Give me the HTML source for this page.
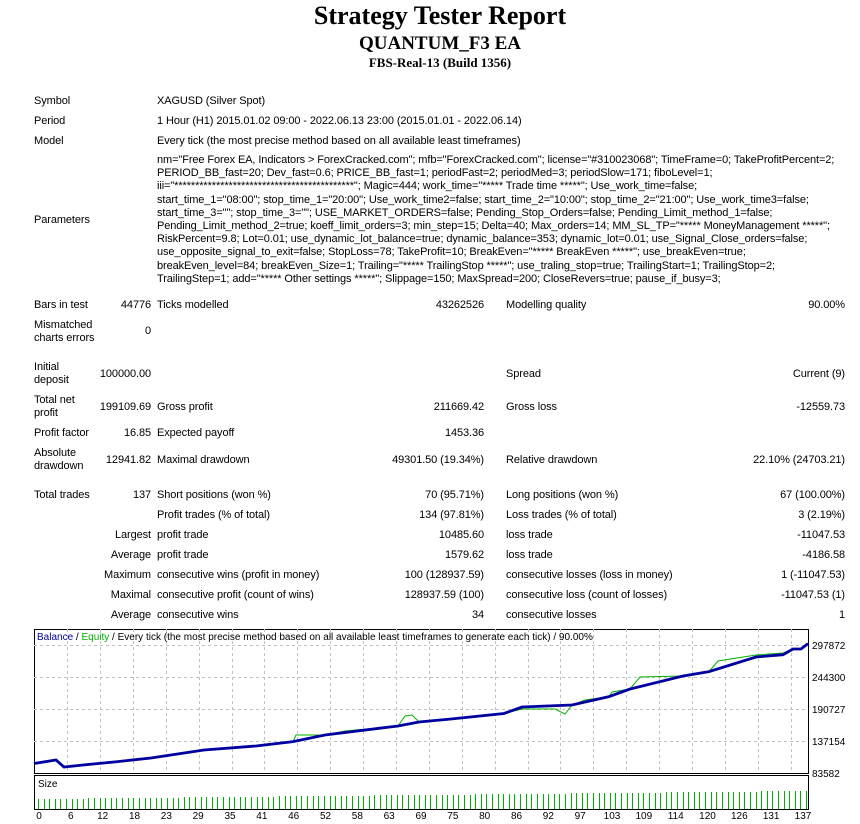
<!DOCTYPE html>
<html><head><meta charset="utf-8"><style>
body{margin:0;width:860px;height:824px;background:#fff;position:relative;overflow:hidden;font-family:"Liberation Sans",sans-serif;font-size:11px;color:#000}
.t{position:absolute;white-space:nowrap;line-height:13px;letter-spacing:-0.1px}
.r{text-align:right}
.h{position:absolute;left:0;width:880px;text-align:center;font-family:"Liberation Serif",serif;font-weight:bold;white-space:nowrap}
</style></head><body>
<div class="h" style="top:1px;font-size:26px">Strategy Tester Report</div>
<div class="h" style="top:33px;font-size:19px">QUANTUM_F3 EA</div>
<div class="h" style="top:55px;font-size:13px">FBS-Real-13 (Build 1356)</div>

<div class="t" style="left:34px;top:95px">Symbol</div><div class="t" style="left:157px;top:95px">XAGUSD (Silver Spot)</div>
<div class="t" style="left:34px;top:115px">Period</div><div class="t" style="left:157px;top:115px">1 Hour (H1) 2015.01.02 09:00 - 2022.06.13 23:00 (2015.01.01 - 2022.06.14)</div>
<div class="t" style="left:34px;top:135px">Model</div><div class="t" style="left:157px;top:135px">Every tick (the most precise method based on all available least timeframes)</div>
<div class="t" style="left:34px;top:214px">Parameters</div>
<div class="t" style="left:157px;top:154px;line-height:13.2px">nm="Free Forex EA, Indicators &gt; ForexCracked.com"; mfb="ForexCracked.com"; license="#310023068"; TimeFrame=0; TakeProfitPercent=2;<br>PERIOD_BB_fast=20; Dev_fast=0.6; PRICE_BB_fast=1; periodFast=2; periodMed=3; periodSlow=171; fiboLevel=1;<br>iii="*******************************************"; Magic=444; work_time="***** Trade time *****"; Use_work_time=false;<br>start_time_1="08:00"; stop_time_1="20:00"; Use_work_time2=false; start_time_2="10:00"; stop_time_2="21:00"; Use_work_time3=false;<br>start_time_3=""; stop_time_3=""; USE_MARKET_ORDERS=false; Pending_Stop_Orders=false; Pending_Limit_method_1=false;<br>Pending_Limit_method_2=true; koeff_limit_orders=3; min_step=15; Delta=40; Max_orders=14; MM_SL_TP="***** MoneyManagement *****";<br>RiskPercent=9.8; Lot=0.01; use_dynamic_lot_balance=true; dynamic_balance=353; dynamic_lot=0.01; use_Signal_Close_orders=false;<br>use_opposite_signal_to_exit=false; StopLoss=78; TakeProfit=10; BreakEven="***** BreakEven *****"; use_breakEven=true;<br>breakEven_level=84; breakEven_Size=1; Trailing="***** TrailingStop *****"; use_traling_stop=true; TrailingStart=1; TrailingStop=2;<br>TrailingStep=1; add="***** Other settings *****"; Slippage=150; MaxSpread=200; CloseRevers=true; pause_if_busy=3;</div>

<div class="t" style="left:34px;top:299px">Bars in test</div><div class="t r" style="right:709px;top:299px">44776</div><div class="t" style="left:157px;top:299px">Ticks modelled</div><div class="t r" style="right:376px;top:299px">43262526</div><div class="t" style="left:506px;top:299px">Modelling quality</div><div class="t r" style="right:15px;top:299px">90.00%</div>
<div class="t" style="left:34px;top:319px">Mismatched<br>charts errors</div><div class="t r" style="right:709px;top:325px">0</div>
<div class="t" style="left:34px;top:361px">Initial<br>deposit</div><div class="t r" style="right:709px;top:368px">100000.00</div><div class="t" style="left:506px;top:368px">Spread</div><div class="t r" style="right:15px;top:368px">Current (9)</div>
<div class="t" style="left:34px;top:394px">Total net<br>profit</div><div class="t r" style="right:709px;top:401px">199109.69</div><div class="t" style="left:157px;top:401px">Gross profit</div><div class="t r" style="right:376px;top:401px">211669.42</div><div class="t" style="left:506px;top:401px">Gross loss</div><div class="t r" style="right:15px;top:401px">-12559.73</div>
<div class="t" style="left:34px;top:427px">Profit factor</div><div class="t r" style="right:709px;top:427px">16.85</div><div class="t" style="left:157px;top:427px">Expected payoff</div><div class="t r" style="right:376px;top:427px">1453.36</div>
<div class="t" style="left:34px;top:447px">Absolute<br>drawdown</div><div class="t r" style="right:709px;top:454px">12941.82</div><div class="t" style="left:157px;top:454px">Maximal drawdown</div><div class="t r" style="right:376px;top:454px">49301.50 (19.34%)</div><div class="t" style="left:506px;top:454px">Relative drawdown</div><div class="t r" style="right:15px;top:454px">22.10% (24703.21)</div>

<div class="t" style="left:34px;top:489px">Total trades</div><div class="t r" style="right:709px;top:489px">137</div><div class="t" style="left:157px;top:489px">Short positions (won %)</div><div class="t r" style="right:376px;top:489px">70 (95.71%)</div><div class="t" style="left:506px;top:489px">Long positions (won %)</div><div class="t r" style="right:15px;top:489px">67 (100.00%)</div>
<div class="t" style="left:157px;top:509px">Profit trades (% of total)</div><div class="t r" style="right:376px;top:509px">134 (97.81%)</div><div class="t" style="left:506px;top:509px">Loss trades (% of total)</div><div class="t r" style="right:15px;top:509px">3 (2.19%)</div>
<div class="t r" style="right:709px;top:529px">Largest</div><div class="t" style="left:157px;top:529px">profit trade</div><div class="t r" style="right:376px;top:529px">10485.60</div><div class="t" style="left:506px;top:529px">loss trade</div><div class="t r" style="right:15px;top:529px">-11047.53</div>
<div class="t r" style="right:709px;top:549px">Average</div><div class="t" style="left:157px;top:549px">profit trade</div><div class="t r" style="right:376px;top:549px">1579.62</div><div class="t" style="left:506px;top:549px">loss trade</div><div class="t r" style="right:15px;top:549px">-4186.58</div>
<div class="t r" style="right:709px;top:569px">Maximum</div><div class="t" style="left:157px;top:569px">consecutive wins (profit in money)</div><div class="t r" style="right:376px;top:569px">100 (128937.59)</div><div class="t" style="left:506px;top:569px">consecutive losses (loss in money)</div><div class="t r" style="right:15px;top:569px">1 (-11047.53)</div>
<div class="t r" style="right:709px;top:589px">Maximal</div><div class="t" style="left:157px;top:589px">consecutive profit (count of wins)</div><div class="t r" style="right:376px;top:589px">128937.59 (100)</div><div class="t" style="left:506px;top:589px">consecutive loss (count of losses)</div><div class="t r" style="right:15px;top:589px">-11047.53 (1)</div>
<div class="t r" style="right:709px;top:609px">Average</div><div class="t" style="left:157px;top:609px">consecutive wins</div><div class="t r" style="right:376px;top:609px">34</div><div class="t" style="left:506px;top:609px">consecutive losses</div><div class="t r" style="right:15px;top:609px">1</div>

<svg id="c" width="860" height="824" style="position:absolute;left:0;top:0" font-family="Liberation Sans, sans-serif" font-size="10"></svg>
<script>
var s=document.getElementById('c'),h='';
var L=34,R=808,T=629,B=773;
h+='<rect x="'+L+'.5" y="'+T+'.5" width="'+(R-L)+'" height="'+(B-T)+'" fill="#fff" stroke="#000"/>';
h+='<rect x="'+L+'.5" y="775.5" width="'+(R-L)+'" height="34" fill="#fff" stroke="#000"/>';
var yl=[[645,'297872'],[677,'244300'],[709,'190727'],[741,'137154'],[773,'83582']];
yl.forEach(function(a){if(a[0]<773)h+='<line x1="'+L+'" x2="'+R+'" y1="'+a[0]+'.5" y2="'+a[0]+'.5" stroke="#c0c0c0" stroke-dasharray="3,3"/>';h+='<text x="812" y="'+(a[0]+4)+'">'+a[1]+'</text>';});
for(var x=L+33;x<R;x+=32.9){h+='<line x1="'+Math.round(x)+'.5" x2="'+Math.round(x)+'.5" y1="'+T+'" y2="'+B+'" stroke="#c0c0c0" stroke-dasharray="3,3"/>';}
var bal=[[34,763.5],[56,760],[64,767],[83,765],[114,762],[151,758],[204,750],[256,746],[293,741.6],[325,735],[398,726],[419,722],[451,719],[504,713.5],[522,707],[572,705],[609,696.6],[630,689],[683,676],[709,671.6],[756,657],[783,654.7],[793,649],[801,649],[808,643.6]];
var eq=[[34,763.5],[56,760],[64,767],[83,765],[114,762],[151,758],[204,750],[256,746],[293,741.6],[296,735],[318,735],[325,735],[345,731],[398,726],[405,716],[412,715],[419,722],[451,719],[504,713.5],[522,709],[555,709],[565,714],[572,705],[585,700],[609,696.6],[612,692],[630,689],[640,677],[683,676],[709,671.6],[718,661],[756,655],[783,653],[793,649],[801,649],[808,643.6]];
function pts(a){return a.map(function(p){return p[0]+','+p[1]}).join(' ')}
h+='<polyline points="'+pts(eq)+'" fill="none" stroke="#00b000" stroke-width="1"/>';
h+='<polyline points="'+pts(bal)+'" fill="none" stroke="#0000a0" stroke-width="2.8"/>';
h+='<text x="37" y="640" font-size="10"><tspan fill="#0000a0">Balance</tspan> / <tspan fill="#00b000">Equity</tspan> / Every tick (the most precise method based on all available least timeframes to generate each tick) / 90.00%</text>';
h+='<text x="38" y="787">Size</text>';
for(var i=0;i<138;i++){var bx=Math.round(L+4+i*(R-L-6)/137);var bh=10+Math.round(8*i/137);h+='<rect x="'+bx+'" y="'+(809-bh)+'" width="1" height="'+bh+'" fill="#00b000" shape-rendering="crispEdges"/>';}
var xl=[0,6,12,18,23,29,35,41,46,52,58,63,69,75,80,86,92,97,103,109,114,120,126,131,137];
xl.forEach(function(v,i){var x=L+5+i*(R-L-10)/24;h+='<text x="'+x+'" y="819" text-anchor="middle">'+v+'</text>';});
s.innerHTML=h;
</script>
</body></html>
